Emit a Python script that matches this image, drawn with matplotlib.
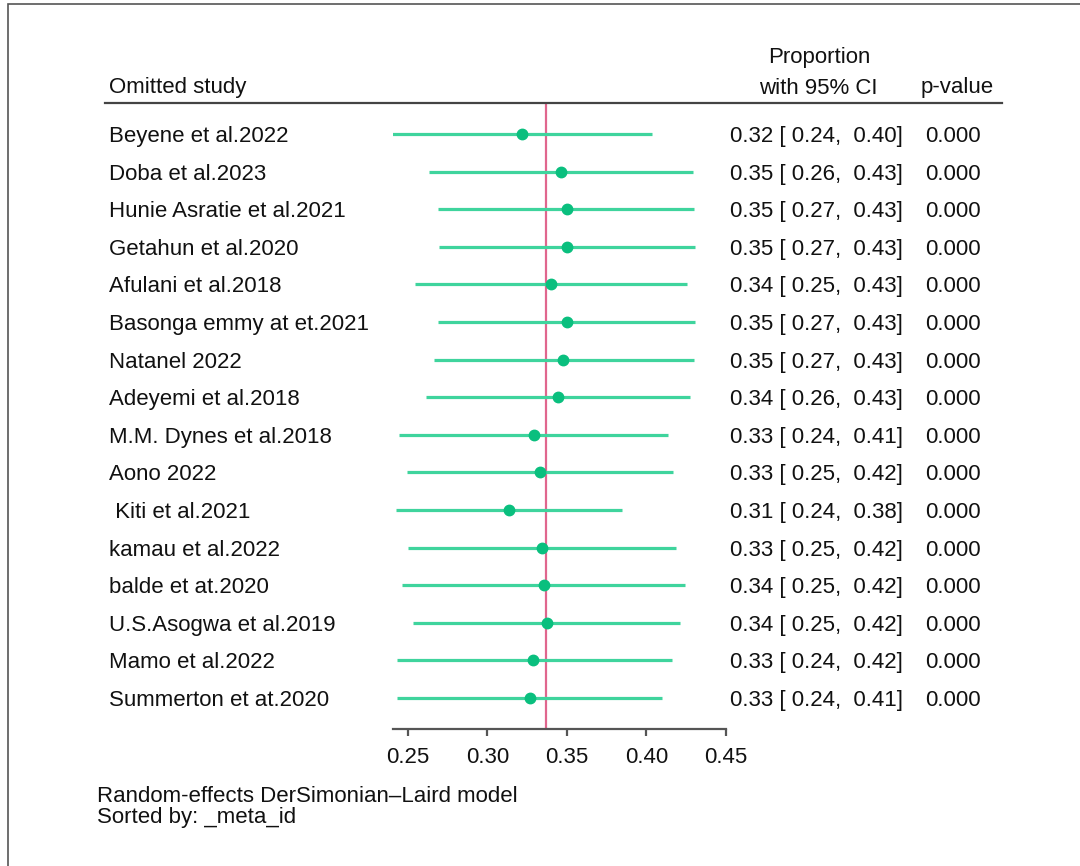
import matplotlib
matplotlib.use("Agg")
import matplotlib.pyplot as plt
from matplotlib.lines import Line2D
from matplotlib.patches import Rectangle
from matplotlib.transforms import blended_transform_factory, offset_copy

plt.rcParams['font.family'] = ['Liberation Sans', 'DejaVu Sans']

# leave-one-out meta-analysis results
studies = [
    "Beyene et al.2022", "Doba et al.2023", "Hunie Asratie et al.2021",
    "Getahun et al.2020", "Afulani et al.2018", "Basonga emmy at et.2021",
    "Natanel 2022", "Adeyemi et al.2018", "M.M. Dynes et al.2018",
    "Aono 2022", " Kiti et al.2021", "kamau et al.2022", "balde et at.2020",
    "U.S.Asogwa et al.2019", "Mamo et al.2022", "Summerton et at.2020",
]
estimate = [0.3215, 0.3460, 0.3498, 0.3502, 0.3397, 0.3498, 0.3477, 0.3446,
            0.3292, 0.3330, 0.3135, 0.3345, 0.3358, 0.3376, 0.3288, 0.3267]
ci_low = [0.2397, 0.2634, 0.2691, 0.2695, 0.2544, 0.2687, 0.2664, 0.2613,
          0.2445, 0.2492, 0.2425, 0.2502, 0.2460, 0.2534, 0.2429, 0.2433]
ci_high = [0.4033, 0.4294, 0.4299, 0.4305, 0.4257, 0.4305, 0.4299, 0.4274,
           0.4137, 0.4169, 0.3844, 0.4186, 0.4240, 0.4211, 0.4158, 0.4098]
p_values = [0.0] * 16
overall = 0.3368
x_ticks = [0.25, 0.30, 0.35, 0.40, 0.45]

W, H = 1080, 866
FS = 16
TXT = '#111111'

fig = plt.figure(figsize=(W / 100, H / 100), dpi=100)

# forest panel, placed in pixel terms
left, right, top, bottom = 393, 726, 103, 729
ax = fig.add_axes([left / W, 1 - bottom / H, (right - left) / W, (bottom - top) / H])
rows = list(range(len(studies)))
ax.set_xlim(0.2406, 0.45)
ax.set_ylim(len(studies) - 1 + 0.824, -0.824)

ax.axvline(overall, color='#e0668e', lw=1.6, zorder=1)
ax.hlines(rows, ci_low, ci_high, color='#3fd49d', lw=2.3, zorder=2)
ax.plot(estimate, rows, 'o', color='#0abf7e', ms=7.5, zorder=3)

for side in ['top', 'left', 'right']:
    ax.spines[side].set_visible(False)
ax.spines['bottom'].set_color('#555555')
ax.spines['bottom'].set_linewidth(1.6)
ax.set_yticks([])
ax.set_xticks(x_ticks)
ax.set_xticklabels([f"{t:.2f}" for t in x_ticks])
ax.tick_params(axis='x', direction='out', length=5, width=1.6, color='#555555',
               labelsize=FS, labelcolor=TXT, pad=8)
ax.patch.set_visible(False)

# text columns: x in figure pixels, y on the row scale, baseline dropped
# by half a cap height so the text sits centred on each row
tr = offset_copy(blended_transform_factory(fig.transFigure, ax.transData),
                 fig=fig, y=-8, units='dots')
for i, name in enumerate(studies):
    ax.text(109 / W, i, name, transform=tr, ha='left', va='baseline',
            fontsize=FS, color=TXT)
    ax.text(903 / W, i, f"{estimate[i]:.2f} [ {ci_low[i]:.2f},  {ci_high[i]:.2f}]",
            transform=tr, ha='right', va='baseline', fontsize=FS, color=TXT)
    ax.text(981 / W, i, f"{p_values[i]:.3f}", transform=tr, ha='right',
            va='baseline', fontsize=FS, color=TXT)

# column headers
fig.text(109 / W, 1 - 87 / H, "Omitted study", ha='left', va='center',
         fontsize=FS, color=TXT)
fig.text(819 / W, 1 - 57 / H, "Proportion", ha='center', va='center',
         fontsize=FS, color=TXT)
fig.text(878 / W, 1 - 88 / H, "with 95% CI", ha='right', va='center',
         fontsize=FS, color=TXT)
fig.text(994 / W, 1 - 88 / H, "p-value", ha='right', va='center',
         fontsize=FS, color=TXT)
fig.add_artist(Line2D([105 / W, 1002 / W], [1 - 103 / H, 1 - 103 / H],
                      color='#444444', lw=1.6))

# footnotes
fig.text(97 / W, 1 - 797 / H, "Random-effects DerSimonian\u2013Laird model",
         ha='left', va='center', fontsize=FS, color=TXT)
fig.text(97 / W, 1 - 817 / H, "Sorted by: _meta_id", ha='left', va='center',
         fontsize=FS, color=TXT)

# outer frame
fig.add_artist(Rectangle((8 / W, -0.05), 1.1, 1 - 4 / H + 0.05,
                         transform=fig.transFigure, fill=False,
                         edgecolor='#555555', lw=1.2))

fig.savefig("out.png", dpi=100)
